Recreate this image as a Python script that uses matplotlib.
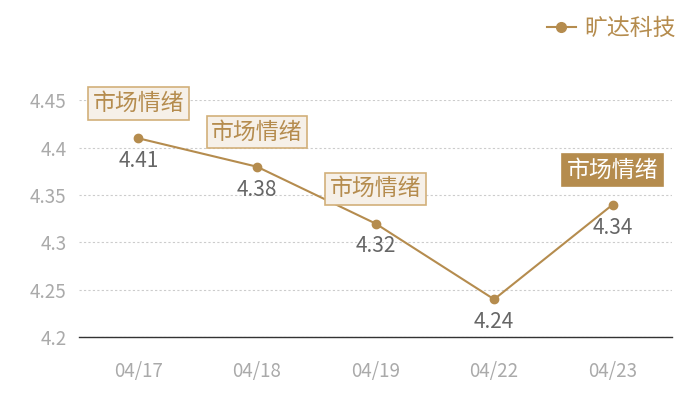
import matplotlib
matplotlib.use("Agg")
import matplotlib.pyplot as plt
from matplotlib.lines import Line2D

plt.rcParams['font.family'] = ['Noto Sans CJK SC', 'DejaVu Sans']
plt.rcParams['font.weight'] = 'light'

# data
dates = ["04/17", "04/18", "04/19", "04/22", "04/23"]
prices = [4.41, 4.38, 4.32, 4.24, 4.34]
series_name = "旷达科技"
tag_text = "市场情绪"
tag_idx = [0, 1, 2, 4]
highlight_idx = 4
yticks = [4.2, 4.25, 4.3, 4.35, 4.4, 4.45]
ytick_labels = ["4.2", "4.25", "4.3", "4.35", "4.4", "4.45"]

gold = "#b58c4e"
light_fill = "#f6f0e8"
edge = "#d2b07a"

fig = plt.figure(figsize=(7, 4), dpi=100)
ax = fig.add_axes([0.113, 0.157, 0.847, 0.592])

x = list(range(len(dates)))
ax.plot(x, prices, color=gold, lw=1.5, marker="o", ms=6, zorder=3, clip_on=False)

ax.set_xlim(-0.5, len(dates) - 0.5)
ax.set_ylim(4.2, 4.45)
ax.set_yticks(yticks)
ax.set_yticklabels(ytick_labels)
ax.set_xticks(x)
ax.set_xticklabels(dates)
ax.tick_params(axis="both", length=0, colors="#aaaaaa", labelsize=13.5)
ax.tick_params(axis="x", pad=17)
ax.tick_params(axis="y", pad=9)
for lab in ax.get_xticklabels() + ax.get_yticklabels():
    lab.set_color("#aaaaaa")

ax.grid(axis="y", color="#cccccc", ls=(0, (2, 2)), lw=0.8)
for s in ["top", "right", "left"]:
    ax.spines[s].set_visible(False)
ax.spines["bottom"].set_color("#333333")
ax.spines["bottom"].set_linewidth(1)

# value labels under each point
for xi, v in zip(x, prices):
    ax.annotate(f"{v:.2f}", (xi, v), xytext=(0, -16.5), textcoords="offset points",
                ha="center", va="center", fontsize=15, color="#666666", zorder=4)

# sentiment tags above points
for i in tag_idx:
    if i == highlight_idx:
        fc, ec, tc = gold, gold, "white"
    else:
        fc, ec, tc = light_fill, edge, gold
    ax.annotate(tag_text, (x[i], prices[i]), xytext=(0, 25), textcoords="offset points",
                ha="center", va="center", fontsize=16.5, color=tc, zorder=5,
                bbox=dict(boxstyle="square,pad=0.2", fc=fc, ec=ec, lw=1.2))

# legend
handle = Line2D([], [], color=gold, lw=1.5, marker="o", ms=7)
leg = fig.legend([handle], [series_name], loc="upper right", bbox_to_anchor=(0.995, 1.01),
                 frameon=False, fontsize=16.5, handlelength=1.3, handletextpad=0.35)
for t in leg.get_texts():
    t.set_color(gold)

fig.savefig("out.png", dpi=100)
